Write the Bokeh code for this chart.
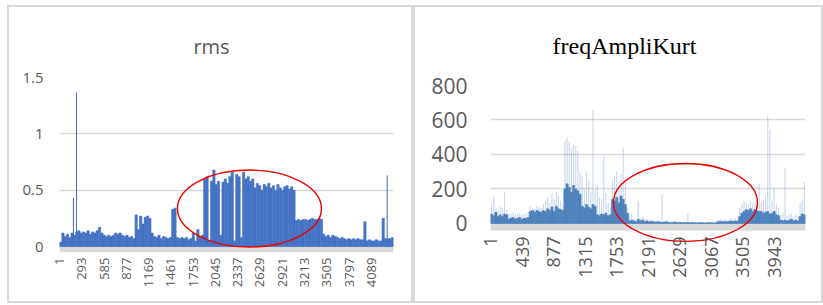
import numpy as np
from bokeh.plotting import figure
from bokeh.layouts import row, column
from bokeh.models import FixedTicker, BoxAnnotation, Range1d
from bokeh.core.properties import value
from bokeh.embed import file_html
from bokeh.resources import INLINE

# ---------------- data ----------------
n_samples = 4380
bin_size = 30

rms_values = [
    0.04, 0.12,
    0.09, 0.11, 0.08, 0.12, 0.10,
    0.13,
    0.14, 0.12, 0.13, 0.12, 0.14, 0.11, 0.13, 0.12, 0.14,
    0.17,
    0.12, 0.10, 0.09, 0.10, 0.09,
    0.10, 0.12, 0.11, 0.12, 0.10, 0.09, 0.10, 0.08, 0.09,
    0.07,
    0.28, 0.15, 0.27, 0.20, 0.26, 0.27, 0.25, 0.12,
    0.09, 0.08, 0.10, 0.07, 0.09, 0.08, 0.07, 0.08,
    0.33, 0.34,
    0.08, 0.07, 0.08, 0.07, 0.08, 0.06, 0.07, 0.12, 0.05, 0.15, 0.08,
    0.10,
    0.60, 0.62, 0.05, 0.58, 0.68, 0.55, 0.58, 0.10, 0.57, 0.60, 0.56,
    0.62, 0.66, 0.05, 0.64, 0.62, 0.08, 0.66, 0.60, 0.62, 0.58, 0.60,
    0.52, 0.56, 0.54, 0.50, 0.55, 0.53, 0.56, 0.52, 0.54, 0.50, 0.55,
    0.52, 0.50, 0.53, 0.54, 0.51, 0.53, 0.50,
    0.23, 0.24, 0.23, 0.24, 0.24, 0.23, 0.24, 0.25, 0.24, 0.24, 0.25, 0.24,
    0.11, 0.09, 0.10, 0.08, 0.10, 0.09, 0.08, 0.07, 0.08, 0.07, 0.06,
    0.07, 0.06, 0.07, 0.06, 0.07, 0.06, 0.06,
    0.22,
    0.05, 0.06, 0.05, 0.05, 0.06, 0.05, 0.05, 0.25,
    0.07, 0.07, 0.07, 0.08,
]
rms_spike_idx = [183, 223, 4297]
rms_spike_val = [0.43, 1.37, 0.63]
rms_xticks = [1, 293, 585, 877, 1169, 1461, 1753, 2045, 2337, 2629, 2921,
              3213, 3505, 3797, 4089]
rms_yticks = [0, 0.5, 1, 1.5]
rms_ylabels = ["0", "0.5", "1", "1.5"]
rms_ellipse = (2491, 0.337, 1888, 0.683)   # x, y, width, height
rms_title = ["rms"]

kurt_core = [
    55, 45, 65, 40, 50, 40, 55, 50,
    25, 30, 35, 25, 30, 35, 25, 30, 30, 35,
    70, 75, 65, 75, 70, 65, 75,
    70, 85, 75, 95, 70, 100, 85, 80, 75,
    200, 230, 210, 180, 220, 200, 190, 170,
    100, 90, 110, 95, 85, 110, 100,
    50, 45, 55, 50, 60, 45, 50,
    140, 130, 150, 120, 160, 140, 110, 60,
    15, 20, 15, 10, 25, 15, 20, 10, 15, 10, 12, 10,
    8, 10, 8, 6, 8, 10, 6, 5, 6, 8, 5, 6, 5, 4, 5,
    6, 4, 5, 4, 3, 4, 5, 4, 3, 4, 5, 4, 3, 4,
    10, 12, 10, 12, 10, 12, 14, 12, 15, 14,
    40, 60, 70, 80, 75, 85, 70, 80, 75, 70,
    70, 60, 65, 70, 55, 60, 70, 50, 45,
    20, 15, 20, 15, 20, 25, 15, 20, 15,
    40, 55, 50,
]
kurt_peaks = [
    110, 155, 90, 80, 100, 90, 185, 80,
    60, 55, 65, 50, 55, 60, 50, 55, 60, 65,
    100, 90, 85, 100, 95, 90, 110,
    130, 150, 120, 175, 140, 180, 160, 130, 110,
    480, 500, 470, 440, 460, 450, 420, 300,
    280, 200, 300, 250, 180, 660, 200,
    220, 150, 140, 390, 180, 120, 90,
    250, 280, 300, 220, 290, 440, 260, 90,
    40, 60, 30, 25, 130, 35, 40, 30, 25, 20, 25, 20,
    15, 20, 18, 170, 15, 20, 12, 10, 12, 15, 10, 12, 10, 8, 10,
    60, 8, 10, 8, 6, 8, 10, 8, 6, 8, 10, 8, 6, 8,
    20, 25, 20, 25, 20, 25, 30, 25, 30, 28,
    90, 110, 130, 120, 110, 130, 120, 125, 110, 230,
    120, 140, 160, 620, 545, 130, 210, 110, 90,
    50, 60, 320, 45, 50, 60, 40, 55, 45,
    120, 140, 240,
]
kurt_xticks = [1, 439, 877, 1315, 1753, 2191, 2629, 3067, 3505, 3943]
kurt_yticks = [0, 200, 400, 600, 800]
kurt_ellipse = (2711, 122, 2002, 452)
kurt_title = ["freqAmpliKurt"]

# ---------------- layout constants (pixels) ----------------
PANEL_W1, PANEL_W2 = 402, 406
TITLE_H = 56
CHART_H = 294 - TITLE_H
BORDER = "2px solid #d9d9d9"


def title_figure(width, text, cx, baseline, font, size, color):
    t = figure(width=width, height=TITLE_H, output_backend="svg",
               toolbar_location=None, x_range=Range1d(0, width),
               y_range=Range1d(0, TITLE_H), min_border=0,
               x_axis_type=None, y_axis_type=None)
    t.grid.visible = False
    t.outline_line_color = None
    t.text(x=[cx], y=[TITLE_H - baseline], text=text,
           text_align="center", text_baseline="alphabetic",
           text_font=value(font), text_font_size=value(size),
           text_color=color)
    return t


def style_axes(p, xticks, yticks, xfs, yfs, ystand, xstand=5):
    p.xaxis.ticker = FixedTicker(ticks=xticks)
    p.yaxis.ticker = FixedTicker(ticks=yticks)
    for ax in (p.xaxis[0], p.yaxis[0]):
        ax.axis_line_color = None
        ax.major_tick_line_color = None
        ax.minor_tick_line_color = None
        ax.major_tick_in = 0
        ax.major_tick_out = 0
        ax.minor_tick_in = 0
        ax.minor_tick_out = 0
        ax.major_label_text_font = "Open Sans"
        ax.major_label_text_color = "#595959"
    p.xaxis.major_label_orientation = np.pi / 2
    p.xaxis.major_label_text_font_size = xfs
    p.xaxis.major_label_standoff = xstand
    p.yaxis.major_label_text_font_size = yfs
    p.yaxis.major_label_standoff = ystand
    p.xgrid.visible = False
    p.ygrid.grid_line_color = "#d9d9d9"
    p.ygrid.grid_line_width = 1.3
    p.outline_line_color = None


# ---------------- left: rms ----------------
rms_x = np.arange(len(rms_values)) * bin_size + bin_size / 2
p1 = figure(width=PANEL_W1, height=CHART_H, output_backend="svg",
            toolbar_location=None,
            x_range=Range1d(0, n_samples), y_range=Range1d(-0.053, 1.5),
            min_border_left=50, min_border_right=18,
            min_border_top=70 - TITLE_H, min_border_bottom=49)
style_axes(p1, rms_xticks, rms_yticks, "13px", "15px", 16)
p1.yaxis.major_label_overrides = {t: l for t, l in zip(rms_yticks, rms_ylabels)}

p1.add_layout(BoxAnnotation(top=0, fill_color="#d9d9d9", fill_alpha=1,
                            line_color=None, level="underlay"))
p1.vbar(x=rms_x, top=rms_values, bottom=0, width=bin_size,
        fill_color="#4472c4", line_color="#4472c4", line_width=0.6)
p1.vbar(x=rms_spike_idx, top=rms_spike_val, bottom=0, width=14,
        fill_color="#4472c4", line_color=None)
p1.ellipse(x=[rms_ellipse[0]], y=[rms_ellipse[1]], width=[rms_ellipse[2]],
           height=[rms_ellipse[3]], fill_color=None, line_color="#ee0000",
           line_width=1.4)
t1 = title_figure(PANEL_W1, rms_title, 202, 39, "Open Sans", "20px", "#595959")

# ---------------- right: freqAmpliKurt ----------------
kx = np.arange(len(kurt_core)) * bin_size + bin_size / 2
p2 = figure(width=PANEL_W2, height=CHART_H, output_backend="svg",
            toolbar_location=None,
            x_range=Range1d(0, n_samples), y_range=Range1d(-116, 800),
            min_border_left=75, min_border_right=16,
            min_border_top=78 - TITLE_H, min_border_bottom=58)
style_axes(p2, kurt_xticks, kurt_yticks, "18px", "21px", 23, xstand=-7)

p2.add_layout(BoxAnnotation(bottom=-40, top=0, fill_color="#d9d9d9",
                            fill_alpha=1, line_color=None, level="underlay"))
p2.vbar(x=kx, top=kurt_peaks, bottom=0, width=16,
        fill_color="#4f81bd", fill_alpha=0.3, line_color=None)
p2.vbar(x=kx, top=kurt_core, bottom=0, width=bin_size,
        fill_color="#4f81bd", line_color="#4f81bd", line_width=0.6)
p2.ellipse(x=[kurt_ellipse[0]], y=[kurt_ellipse[1]], width=[kurt_ellipse[2]],
           height=[kurt_ellipse[3]], fill_color=None, line_color="#ee0000",
           line_width=1.4)
t2 = title_figure(PANEL_W2, kurt_title, 209, 38, "Liberation Serif", "24px",
                  "#000000")

left = column(column(t1), column(p1),
              styles={"border": BORDER, "margin-left": "7px", "margin-top": "5px"})
right = column(column(t2), column(p2),
               styles={"border": BORDER, "margin-top": "5px"})
layout = row(left, right)
open("out.html", "w").write(file_html(layout, INLINE))
